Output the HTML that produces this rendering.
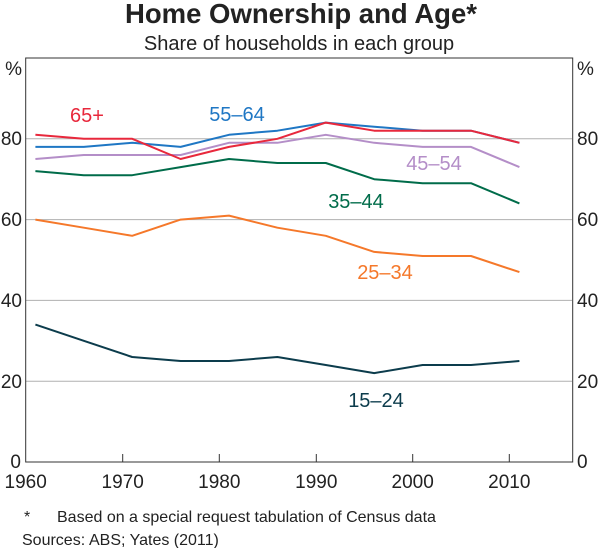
<!DOCTYPE html>
<html><head><style>body{margin:0;background:#fff}svg{display:block;font-family:"Liberation Sans",Arial,sans-serif}</style></head><body>
<svg width="600" height="548" viewBox="0 0 600 548">
<text x="301" y="23" text-anchor="middle" font-size="27.5" font-weight="bold" fill="#222">Home Ownership and Age*</text>
<text x="299" y="50" text-anchor="middle" font-size="20" fill="#222">Share of households in each group</text>
<g stroke="#b0b0b0" stroke-width="1">
<line x1="26" x2="572" y1="381.2" y2="381.2"/><line x1="26" x2="572" y1="300.4" y2="300.4"/><line x1="26" x2="572" y1="219.6" y2="219.6"/><line x1="26" x2="572" y1="138.8" y2="138.8"/>
</g>
<rect x="25.7" y="58" width="547" height="404" fill="none" stroke="#333" stroke-width="1"/>
<g stroke="#333"><line x1="122.7" x2="122.7" y1="462" y2="454"/><line x1="219.3" x2="219.3" y1="462" y2="454"/><line x1="316.3" x2="316.3" y1="462" y2="454"/><line x1="412.7" x2="412.7" y1="462" y2="454"/><line x1="509.3" x2="509.3" y1="462" y2="454"/></g>
<g font-size="19" text-anchor="end" fill="#222"><text x="22" y="75">%</text><text x="21" y="468">0</text><text x="22" y="388">20</text><text x="22" y="307">40</text><text x="22" y="226">60</text><text x="22" y="145">80</text></g>
<g font-size="19" text-anchor="start" fill="#222"><text x="577" y="75">%</text><text x="577" y="468">0</text><text x="577" y="388">20</text><text x="577" y="307">40</text><text x="577" y="226">60</text><text x="577" y="145">80</text></g>
<g font-size="19" text-anchor="middle" fill="#222"><text x="25.7" y="488">1960</text><text x="122.7" y="488">1970</text><text x="219.3" y="488">1980</text><text x="316.3" y="488">1990</text><text x="412.7" y="488">2000</text><text x="509.3" y="488">2010</text></g>
<g fill="none" stroke-width="2" stroke-linejoin="round">
<polyline stroke="#0c3c4c" points="35.4,324.6 83.8,340.8 132.2,357 180.6,361 229,361 277.4,357 325.8,365 374.2,373.1 422.6,365 471,365 519.4,361"/>
<polyline stroke="#f5782a" points="35.4,219.6 83.8,227.7 132.2,235.8 180.6,219.6 229,215.6 277.4,227.7 325.8,235.8 374.2,251.9 422.6,256 471,256 519.4,272.1"/>
<polyline stroke="#006c4a" points="35.4,171.1 83.8,175.2 132.2,175.2 180.6,167.1 229,159 277.4,163 325.8,163 374.2,179.2 422.6,183.2 471,183.2 519.4,203.4"/>
<polyline stroke="#b48ec8" points="35.4,159 83.8,155 132.2,155 180.6,155 229,142.8 277.4,142.8 325.8,134.8 374.2,142.8 422.6,146.9 471,146.9 519.4,167.1"/>
<polyline stroke="#1f77c4" points="35.4,146.9 83.8,146.9 132.2,142.8 180.6,146.9 229,134.8 277.4,130.7 325.8,122.6 374.2,126.7 422.6,130.7 471,130.7 519.4,142.8"/>
<polyline stroke="#e8283c" points="35.4,134.8 83.8,138.8 132.2,138.8 180.6,159 229,146.9 277.4,138.8 325.8,122.6 374.2,130.7 422.6,130.7 471,130.7 519.4,142.8"/>
</g>
<g font-size="20" text-anchor="middle">
<text x="87" y="122" fill="#e8283c">65+</text>
<text x="237" y="121" fill="#1f77c4">55–64</text>
<text x="434" y="170" fill="#b48ec8">45–54</text>
<text x="356" y="208" fill="#006c4a">35–44</text>
<text x="385" y="279" fill="#f5782a">25–34</text>
<text x="376" y="407" fill="#0c3c4c">15–24</text>
</g>
<g font-size="16" fill="#222"><text x="24" y="522">*</text><text x="57" y="522">Based on a special request tabulation of Census data</text><text x="22" y="545">Sources:</text><text x="89" y="545">ABS; Yates (2011)</text></g>
</svg>
</body></html>
